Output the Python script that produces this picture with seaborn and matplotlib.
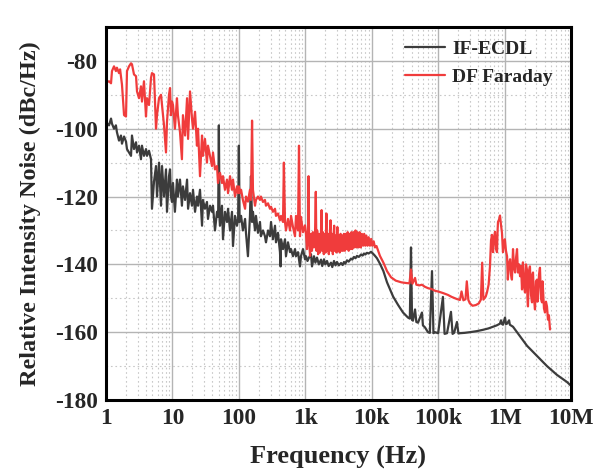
import numpy as np
import pandas as pd
import matplotlib
matplotlib.use("Agg")
import matplotlib.pyplot as plt
import seaborn as sns
from matplotlib.ticker import FixedLocator, NullFormatter
from matplotlib.lines import Line2D

# ---------------- data ----------------
if_freq = [1.0, 1.05, 1.11, 1.19, 1.23, 1.32, 1.41, 1.46, 1.57, 1.68, 1.74, 1.87, 2.0, 2.07, 2.22, 2.38, 2.46,
           2.64, 2.83, 2.93, 3.14, 3.36, 3.48, 3.73, 4.0, 4.14, 4.44, 4.76, 4.92, 5.28, 5.66, 5.86, 6.28, 6.73,
           6.97, 7.47, 8.0, 8.28, 8.88, 9.2, 9.5, 9.86, 10.2, 10.9, 11.7, 12.1, 13.0, 13.9, 14.4, 15.5, 16.6,
           17.2, 18.4, 19.7, 20.4, 21.9, 23.4, 24.3, 26.0, 27.9, 28.8, 30.9, 33.1, 34.3, 36.8, 39.4, 40.8,
           43.7, 46.9, 48.8, 50.0, 51.2, 52.0, 55.7, 57.7, 61.8, 66.3, 68.7, 73.6, 78.8, 81.6, 87.5, 93.7,
           97.5, 100, 102.5, 108, 115, 124, 128, 137, 147, 152, 158, 163, 175, 181, 194, 208, 215, 231, 247,
           256, 275, 294, 305, 326, 350, 362, 388, 416, 425, 431, 462, 495, 512, 549, 589, 610, 653, 700, 725,
           777, 832, 861, 924, 990, 1025, 1080, 1137, 1219, 1262, 1352, 1420, 1500, 1600, 1725, 1800, 1914,
           2000, 2123, 2250, 2438, 2550, 2705, 2850, 3000, 3200, 3450, 3650, 3826, 4000, 4244, 4500, 4875,
           5100, 5408, 5700, 6000, 6400, 6900, 7300, 7650, 8000, 8490, 9000, 9750, 10400, 11000, 12000, 13300,
           15000, 17000, 21000, 25000, 29600, 35200, 37500, 39000, 40500, 41800, 44900, 47000, 49800, 57100,
           59000, 63400, 70300, 75000, 80800, 85000, 89700, 100000, 118000, 125000, 136000, 156000, 165000,
           174000, 192000, 202000, 213000, 250000, 302000, 380000, 473000, 570000, 670000, 760000, 852000,
           883000, 915000, 946000, 1014000, 1050000, 1087000, 1170000, 1200000, 1340000, 1540000, 2175000,
           3080000, 4350000, 6150000, 8710000, 10000000]
if_rin = [-100, -98.5, -99, -97, -98.5, -100, -99, -101, -103.5, -102, -104.4, -102.3, -103.8, -106, -107, -108,
          -102, -106, -104, -107, -105, -109, -105, -108, -106, -108, -106.5, -109, -123.6, -115.6, -111, -120,
          -110, -122.7, -111, -120, -112, -124.5, -114, -112, -120, -121.6, -116, -124.5, -115, -120, -115,
          -122.7, -117, -121, -115, -123.6, -119, -122.7, -118, -124.5, -120, -122.7, -118, -128.6, -121,
          -123.6, -121.6, -126.6, -122.7, -124.5, -122.7, -130, -124.5, -126, -99, -126.6, -128.6, -122.7,
          -132.6, -124.5, -127.5, -123.6, -130, -124.5, -134.6, -125.7, -128.6, -126.6, -105, -127.5, -125.7,
          -130, -126.6, -130.7, -137.6, -125.7, -114, -127.5, -124.5, -130, -125.7, -130.7, -127.5, -131.7,
          -130, -131.7, -133.5, -130, -131.7, -127.5, -132.6, -128.6, -133.5, -130.7, -136.4, -140.6, -132.6,
          -135.5, -132.6, -137.6, -133.5, -136.4, -135.5, -137.6, -135.5, -137.6, -136.4, -140.6, -137.6,
          -135.5, -138.5, -137.6, -139, -138, -137, -140.6, -137.6, -139.5, -138, -140, -138.6, -140.5, -138.5,
          -140, -139, -140.5, -139.5, -140.8, -139, -140.3, -139.3, -140.3, -139.6, -140.2, -139.3, -139.8,
          -138.8, -139.2, -138.3, -138.6, -137.8, -138.2, -137.5, -137.8, -137.1, -137.4, -136.8, -137.1,
          -136.6, -136.8, -136.3, -136.8, -137.3, -138.2, -139.8, -142, -145.3, -149.5, -152, -154.2, -155.7,
          -156, -135, -156.4, -156.6, -153.3, -157, -157.2, -154.2, -158, -158.6, -160, -160.2, -142, -160.3,
          -160, -160.3, -149.6, -160.5, -160.3, -154, -160.5, -160.2, -157, -160.4, -160.3, -160.2, -160,
          -159.7, -159.3, -158.9, -158.4, -158, -157.5, -156.5, -157.6, -157.8, -155.7, -157.6, -157.5, -156.5,
          -157.8, -158.4, -160, -164, -167, -170, -172.6, -174.7, -175.8]

df_freq = [1.0, 1.05, 1.11, 1.19, 1.23, 1.32, 1.41, 1.46, 1.57, 1.63, 1.74, 1.87, 2.0, 2.07, 2.22, 2.38, 2.46,
           2.64, 2.83, 2.93, 3.14, 3.36, 3.48, 3.73, 4.0, 4.14, 4.44, 4.76, 4.92, 5.28, 5.66, 5.86, 6.28, 6.73,
           6.97, 7.47, 8.0, 8.28, 8.88, 9.2, 9.5, 9.86, 10.2, 10.9, 11.7, 12.1, 13.0, 13.9, 14.4, 15.5, 16.6,
           17.2, 18.4, 19.7, 20.4, 21.9, 23.4, 24.3, 26.0, 27.9, 28.8, 30.9, 33.1, 34.3, 36.8, 39.4, 40.8,
           43.7, 46.9, 48.5, 52.0, 55.7, 57.7, 61.8, 66.3, 68.7, 73.6, 78.8, 81.6, 87.5, 93.7, 97.1, 100, 104,
           108, 115, 124, 128, 137, 147, 152, 158, 163, 175, 181, 194, 208, 215, 231, 247, 256, 275, 294, 305,
           326, 350, 362, 388, 416, 431, 462, 476, 495, 512, 549, 589, 610, 653, 700, 725, 777, 804, 832, 861,
           924, 990, 1025, 1060, 1100, 1120, 1140, 1180, 1220, 1260, 1300, 1350, 1400, 1440, 1470, 1510, 1560,
           1610, 1660, 1720, 1760, 1790, 1840, 1900, 1960, 2020, 2080, 2120, 2180, 2260, 2330, 2400, 2450,
           2520, 2600, 2660, 2720, 2770, 2850, 2950, 3040, 3100, 3200, 3300, 3400, 3500, 3600, 3700, 3820,
           3950, 4080, 4200, 4350, 4500, 4650, 4800, 4950, 5100, 5300, 5500, 5700, 5900, 6100, 6350, 6600,
           6850, 7100, 7400, 7700, 8000, 8300, 8650, 9000, 9400, 9800, 10200, 10700, 11200, 11800, 12500,
           13300, 15000, 17000, 19500, 23000, 28000, 33000, 37000, 39000, 41000, 44900, 47000, 52000, 57000,
           63000, 70000, 80000, 90000, 100000, 120000, 140000, 160000, 190000, 213000, 225000, 240000, 258000,
           270000, 285000, 300000, 330000, 370000, 410000, 440000, 460000, 480000, 520000, 543000, 575000,
           603000, 625000, 646000, 670000, 695000, 718000, 745000, 769000, 785000, 796000, 825000, 853000,
           885000, 914000, 946000, 980000, 1010000, 1050000, 1090000, 1120000, 1160000, 1210000, 1250000,
           1290000, 1340000, 1390000, 1440000, 1490000, 1540000, 1590000, 1650000, 1710000, 1770000, 1830000,
           1890000, 1960000, 2030000, 2100000, 2170000, 2210000, 2250000, 2330000, 2410000, 2500000, 2590000,
           2630000, 2680000, 2770000, 2870000, 2970000, 3080000, 3130000, 3180000, 3300000, 3410000, 3530000,
           3660000, 3720000, 3790000, 3920000, 4060000, 4200000, 4350000, 4500000, 4650000, 4830000]
df_rin = [-86.6, -86.2, -86, -86.6, -83, -81.6, -83, -82, -83.6, -82.5, -87, -96, -96.4, -83, -81.6, -80.7, -81,
          -84, -84.5, -89, -91, -87.5, -92, -86, -96.4, -91, -93, -85, -83.6, -84, -100, -96, -91, -90, -93, -99,
          -107, -98, -90, -88, -96, -92, -93, -100, -91, -96, -101, -109, -96, -102, -91, -103, -89, -97, -100,
          -95, -105, -100, -114, -102, -108, -103, -110, -105, -108, -111, -107, -112, -111, -116, -113, -116,
          -114, -118, -115, -119, -114, -118, -115, -120, -117, -119, -117, -119, -118, -121, -123.6, -120,
          -121.5, -118, -121, -97.6, -118, -122.7, -121, -120, -121, -120, -121.6, -121, -122.7, -122, -123.6,
          -123, -124.5, -123.6, -125.7, -125, -127, -125.7, -127.5, -110, -127.5, -130, -126.6, -130, -125.7,
          -129, -131.7, -125.7, -130, -105, -131.7, -126, -130.5, -128.5, -131, -135.5, -130, -114, -133,
          -137.5, -131, -136, -130.5, -135, -131.5, -118.6, -136, -130, -137, -131, -136.5, -131.5, -124, -136,
          -130.5, -137, -131, -136.5, -125, -136, -131, -137, -131.5, -127, -136, -131, -137, -132, -128.6,
          -136, -131.5, -136.5, -129, -136, -131.5, -136.5, -131, -136, -131.5, -136, -131, -136, -131, -135.5,
          -130.5, -136, -131, -135.5, -130.5, -135.5, -130.5, -135, -130, -135, -130.5, -135, -130.5, -135,
          -131, -134.5, -131, -134.5, -131.5, -134.5, -132, -134.5, -132.5, -134.5, -133.2, -135, -134.6, -136,
          -137.5, -139.5, -142, -143.8, -144.8, -145.3, -145.5, -145.6, -141.5, -145.7, -144, -146, -146.2,
          -146, -146.6, -147, -147.3, -147.8, -148, -148.5, -149, -149.6, -150.2, -150.5, -148, -150.6, -150.3,
          -145, -150.5, -151.5, -152.2, -152, -151.5, -150.4, -139.5, -150.4, -149.5, -148.3, -146, -140.6,
          -133, -131.3, -136.4, -132, -130.4, -135.5, -136.4, -130, -127.5, -126.8, -125.6, -128.5, -130.7,
          -136.4, -134, -132.6, -136, -137.6, -144.5, -140, -138.5, -143, -144.5, -135.5, -141, -142.4, -138,
          -135.5, -142.4, -140, -143.5, -140.5, -147.4, -139.4, -146, -148.3, -140, -141.5, -150, -152.4, -142,
          -140.6, -149, -151.2, -143, -142.4, -150, -153.3, -145, -144.5, -151, -149, -143, -141, -150, -151.2,
          -145, -147.4, -153, -154.2, -151, -152.4, -156.3, -155, -159.2]

series_names = ["IF-ECDL", "DF Faraday"]
tick_vals = [1, 10, 100, 1e3, 1e4, 1e5, 1e6, 1e7]
tick_labels = ["1", "10", "100", "1k", "10k", "100k", "1M", "10M"]
y_ticks = [-80, -100, -120, -140, -160, -180]

# ---------------- figure ----------------
sns.set_style("white")
plt.rcParams["font.family"] = ["Liberation Serif", "DejaVu Serif"]
plt.rcParams["font.weight"] = "bold"

df = pd.concat([
    pd.DataFrame({"f": if_freq, "rin": if_rin, "s": series_names[0]}),
    pd.DataFrame({"f": df_freq, "rin": df_rin, "s": series_names[1]}),
])

fig = plt.figure(figsize=(5.93, 4.74), dpi=100)
ax = fig.add_axes([106 / 593, 1 - 400 / 474, 465 / 593, 373 / 474])

palette = {"IF-ECDL": "#3c3c3c", "DF Faraday": "#f03c3c"}
sns.lineplot(data=df, x="f", y="rin", hue="s", palette=palette, estimator=None, sort=False,
             linewidth=1.6, ax=ax, legend=False, hue_order=series_names)

ax.set_xscale("log")
ax.set_xlim(1, 1e7)
ax.set_ylim(-180, -70)

ax.xaxis.set_major_locator(FixedLocator(tick_vals))
ax.set_xticklabels(tick_labels)
minors = [m * 10 ** d for d in range(7) for m in range(2, 10)]
ax.xaxis.set_minor_locator(FixedLocator(minors))
ax.xaxis.set_minor_formatter(NullFormatter())
ax.set_yticks(y_ticks)
ax.set_yticklabels([str(v) for v in y_ticks])
ax.yaxis.set_minor_locator(FixedLocator([-90, -110, -130, -150, -170]))

ax.grid(True, which="major", color="#b4b4b4", linewidth=1.0, linestyle="-")
ax.grid(True, which="minor", color="#c8c8c8", linewidth=0.8, linestyle=(0, (1.5, 2.5)))
ax.set_axisbelow(True)

for sp in ax.spines.values():
    sp.set_linewidth(2.2)
    sp.set_color("black")

ax.tick_params(axis="both", which="major", direction="in", length=5, width=1.8,
               labelsize=16.8, top=False, right=False)
ax.tick_params(axis="x", which="major", pad=6)
ax.tick_params(axis="y", which="major", pad=6)
ax.tick_params(axis="both", which="minor", direction="in", length=3, width=1.2, top=False, right=False)
for lab in ax.get_xticklabels() + ax.get_yticklabels():
    lab.set_fontweight("bold")

ax.set_xlabel("Frequency (Hz)", fontsize=19, fontweight="bold", labelpad=12)
ax.set_ylabel("Relative Intensity Noise (dBc/Hz)", fontsize=17.5, fontweight="bold", labelpad=10)

handles = [Line2D([], [], color=palette[n], linewidth=1.6) for n in series_names]
ax.legend(handles, series_names, loc="upper right", bbox_to_anchor=(0.99, 1.0), frameon=False,
          prop={"family": "Liberation Serif", "weight": "bold", "size": 14}, handlelength=2.1,
          handletextpad=0.35, labelspacing=0.5, borderaxespad=0.3)

fig.savefig("out.png", dpi=100)
